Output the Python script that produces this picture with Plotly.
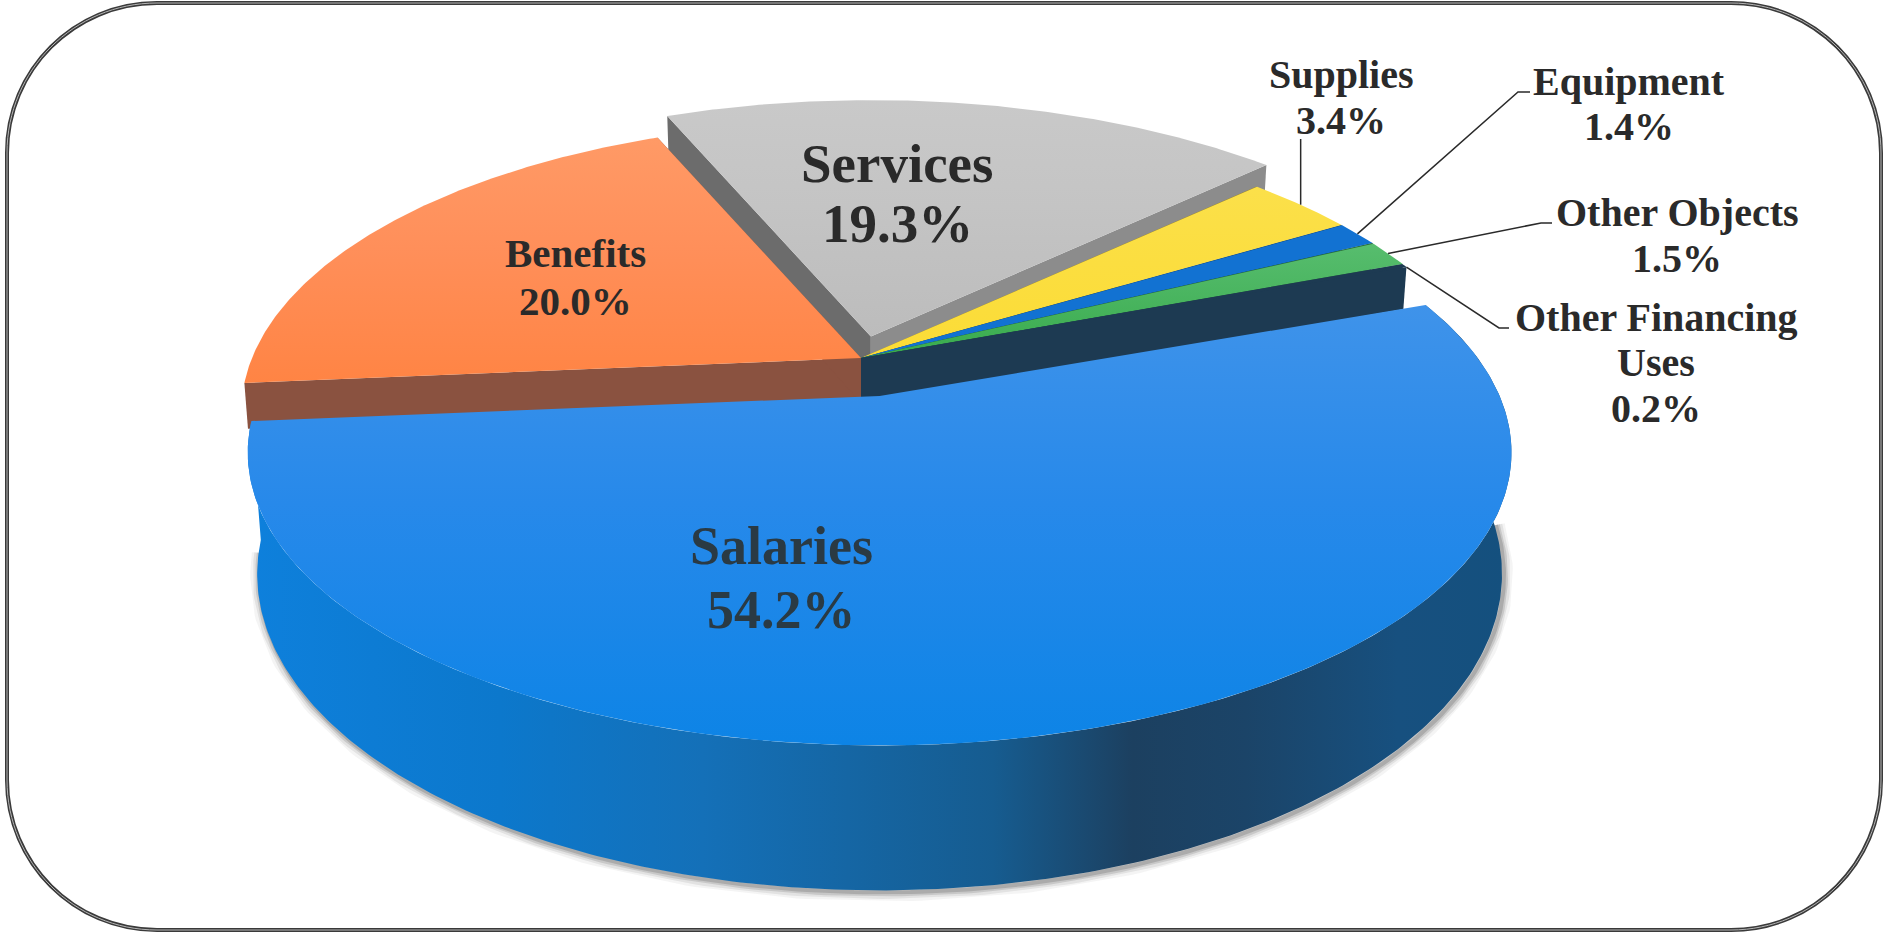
import numpy as np
import plotly.graph_objects as go

# Budget shares by object of expenditure (percent)
categories = ["Salaries", "Benefits", "Services", "Supplies", "Equipment", "Other Objects", "Other Financing Uses"]
shares = [54.2, 20.0, 19.3, 3.4, 1.4, 1.5, 0.2]
explode = [0.138, 0.0, 0.078, 0.0, 0.0, 0.0, 0.0]

# Top-surface gradients, listed from the upper edge of each slice to the lower edge
top_stops = [
    ["#3f93ea", "#2789ea", "#0d84e6"],
    ["#ff9a66", "#ff8f5a", "#ff8444"],
    ["#c9c9c9", "#c4c4c4", "#bcbcbc"],
    ["#fbe04a", "#fbde40", "#fbdc36"],
    ["#1272d2", "#1272d2", "#1272d2"],
    ["#57bd6e", "#4ab560", "#38ab4c"],
    ["#1d3a52", "#1d3a52", "#1d3a52"],
]
# Colours of the two cut faces of each slice (leading, trailing)
face_colors = [("#1d3a52", "#1d3a52"), ("#8a5240", "#8a5240"), ("#6c6c6c", "#8c8c8c"),
               ("#a08c2a", "#a08c2a"), ("#0c4a88", "#0c4a88"), ("#2a7038", "#2a7038"),
               ("#1d3a52", "#1d3a52")]
wall_scale = [[0, "#0e80dc"], [0.2, "#0c78cc"], [0.36, "#1470b8"], [0.59, "#165c90"],
              [0.70, "#1c4060"], [0.79, "#1b4468"], [0.91, "#17507f"], [1, "#14507e"]]

# Projection of the tilted pie on the page
CX, CY = 861.0, 358.0
RX, RY = 620.0, 282.0
TILT = 0.193
DEPTH = 117.0
FACE_DEPTH = 45.0
END_ANGLE_FIRST = 175.0
# Rear slices sit slightly smaller than the front one, drifting right toward the viewer
REAR_RX, REAR_SHIFT = 615.0, 6.0
BOTTOM_SHRINK = 0.015


def project(theta_deg, lift=0.0, rx=RX, shift=0.0):
    t = np.radians(theta_deg)
    u, v = np.cos(t), np.sin(t)
    s = 1.0 / (1.0 - TILT * v)
    narrow = 1.0 - BOTTOM_SHRINK * lift / DEPTH
    return shift * (1.0 + v) + rx * u * s * narrow, (RY * v + lift) * s


total = sum(shares)
sweeps = [p / total * 360.0 for p in shares]
start = END_ANGLE_FIRST - sweeps[0]

slices = []
a = start
for i, (name, sweep, e) in enumerate(zip(categories, sweeps, explode)):
    mid = a + sweep / 2
    ox = CX + RX * e * np.cos(np.radians(mid))
    oy = CY + RY * e * np.sin(np.radians(mid))
    slices.append(dict(name=name, a0=a, a1=a + sweep, mid=mid, ox=ox, oy=oy,
                       rx=RX if i == 0 else REAR_RX, shift=0.0 if i == 0 else REAR_SHIFT))
    a += sweep


def poly(xs, ys, **kw):
    return go.Scatter(x=xs, y=ys, mode="lines", fill="toself", line=dict(width=0),
                      hoverinfo="skip", showlegend=False, **kw)


fig = go.Figure()


def add_face(sl, angle, color, depth):
    px, py = project(angle, 0.0, sl["rx"], sl["shift"])
    bx, by = project(angle, depth, sl["rx"], sl["shift"])
    xs = [sl["ox"], sl["ox"] + px, sl["ox"] + bx, sl["ox"]]
    ys = [sl["oy"], sl["oy"] + py, sl["oy"] + by, sl["oy"] + depth]
    fig.add_trace(poly(xs, ys, fillcolor=color))


def add_top(sl, stops):
    th = np.linspace(sl["a0"], sl["a1"], 160)
    px, py = project(th, 0.0, sl["rx"], sl["shift"])
    xs = np.r_[sl["ox"], sl["ox"] + px, sl["ox"]]
    ys = np.r_[sl["oy"], sl["oy"] + py, sl["oy"]]
    # The y axis runs downward, so the lower edge comes first on the colour scale
    scale = [[0, stops[2]], [0.55, stops[1]], [1, stops[0]]]
    fig.add_trace(poly(xs, ys, fillgradient=dict(type="vertical", colorscale=scale)))


# Soft shadow under the front rim of the largest slice
big = slices[0]
th = np.linspace(big["a0"] + 22, big["a1"] - 2, 240)
sx, sy = project(th, DEPTH)
for width, alpha in [(18, 0.06), (13, 0.10), (8, 0.16), (4, 0.22)]:
    fig.add_trace(go.Scatter(x=big["ox"] + sx + 2, y=big["oy"] + sy + 2, mode="lines",
                             line=dict(width=width, color=f"rgba(70,70,70,{alpha})"),
                             hoverinfo="skip", showlegend=False))

# Paint back to front: services, benefits, the thin slices, then salaries
order = [2, 1, 3, 4, 5, 6]
for i in order:
    sl = slices[i]
    add_face(sl, sl["a0"], face_colors[i][0], FACE_DEPTH)
    add_face(sl, sl["a1"], face_colors[i][1], FACE_DEPTH)
    add_top(sl, top_stops[i])

# Outer wall of the salaries slice
th = np.linspace(big["a0"], big["a1"], 300)
tx, ty = project(th)
bx, by = project(th, DEPTH)
fig.add_trace(poly(np.r_[big["ox"] + tx, big["ox"] + bx[::-1]],
                   np.r_[big["oy"] + ty, big["oy"] + by[::-1]],
                   fillgradient=dict(type="horizontal", colorscale=wall_scale)))
add_top(big, top_stops[0])

# Leader lines run from each thin slice's rim to an elbow beside its label
leader_elbows = {
    "Supplies": [(None, 139)],
    "Equipment": [(1518, 92), (1530, 92)],
    "Other Objects": [(1541, 223), (1552, 223)],
    "Other Financing Uses": [(1499, 328), (1509, 328)],
}
for sl in slices:
    if sl["name"] in leader_elbows:
        angle = sl["a1"] if sl["name"] == "Other Financing Uses" else sl["mid"]
        ax, ay = project(angle, 0.0, sl["rx"], sl["shift"])
        ax, ay = sl["ox"] + ax, sl["oy"] + ay
        pts = [(ax if x is None else x, y) for x, y in leader_elbows[sl["name"]]]
        fig.add_trace(go.Scatter(x=[ax] + [p[0] for p in pts], y=[ay] + [p[1] for p in pts],
                                 mode="lines", line=dict(width=1.5, color="#2a2a2a"),
                                 hoverinfo="skip", showlegend=False))

# Labels: name lines then the percentage, each centred on the label's x
FONT = "Liberation Serif"
label_lines = {
    "Salaries": (781, ["Salaries"], [546, 610], 54, "#2a3a44"),
    "Benefits": (575, ["Benefits"], [253, 301], 41, "#2a2a2a"),
    "Services": (897, ["Services"], [163, 223], 55, "#2a2a2a"),
    "Supplies": (1341, ["Supplies"], [74, 120], 40, "#2a2a2a"),
    "Equipment": (1629, ["Equipment"], [81, 126], 40, "#2a2a2a"),
    "Other Objects": (1677, ["Other Objects"], [212, 258], 40, "#2a2a2a"),
    "Other Financing Uses": (1656, ["Other Financing", "Uses"], [317, 362, 408], 40, "#2a2a2a"),
}
annotations = []
for name, share in zip(categories, shares):
    x, lines, ys, size, color = label_lines[name]
    for text, y in zip(lines + [f"{share:.1f}%"], ys):
        annotations.append(dict(x=x, y=y, xref="x", yref="y", text=f"<b>{text}</b>", showarrow=False,
                                xanchor="center", yanchor="middle",
                                font=dict(family=FONT, size=size, color=color)))

# Rounded double-line frame around the page
L, T, R_, B, C = 7, 3, 1881, 930, 150
K = C * 0.448  # control-point inset for a circular corner
frame = (f"M {L + C} {T} L {R_ - C} {T} C {R_ - K} {T} {R_} {T + K} {R_} {T + C} L {R_} {B - C} "
         f"C {R_} {B - K} {R_ - K} {B} {R_ - C} {B} L {L + C} {B} C {L + K} {B} {L} {B - K} {L} {B - C} "
         f"L {L} {T + C} C {L} {T + K} {L + K} {T} {L + C} {T} Z")
shapes = [
    dict(type="path", path=frame, xref="x", yref="y", line=dict(color="#3a3a3a", width=4)),
    dict(type="path", path=frame, xref="x", yref="y", line=dict(color="#b5b5b5", width=1)),
]

fig.update_layout(
    width=1889, height=934, margin=dict(l=0, r=0, t=0, b=0),
    paper_bgcolor="white", plot_bgcolor="white",
    xaxis=dict(range=[0, 1889], visible=False, fixedrange=True),
    yaxis=dict(range=[934, 0], visible=False, fixedrange=True),
    annotations=annotations, shapes=shapes, showlegend=False,
)
fig.write_html("out.html", config=dict(displayModeBar=False))
